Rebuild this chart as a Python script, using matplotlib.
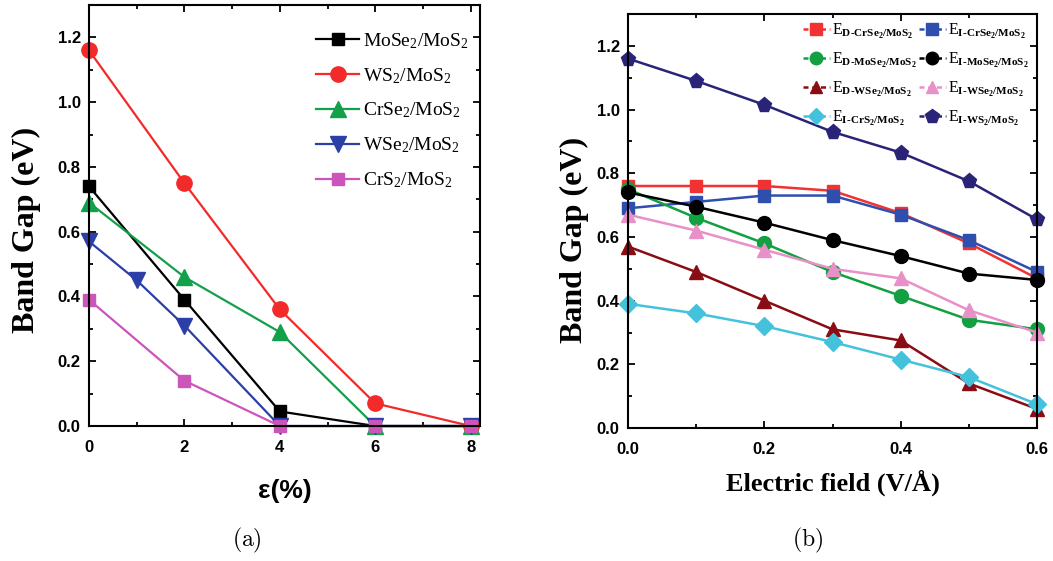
import numpy as np
import matplotlib
matplotlib.use('Agg')
import matplotlib.pyplot as plt
from matplotlib.ticker import MultipleLocator
from matplotlib.lines import Line2D

plt.rcParams['mathtext.fontset'] = 'custom'
plt.rcParams['mathtext.rm'] = 'Liberation Serif'
plt.rcParams['mathtext.bf'] = 'Liberation Serif:bold'
plt.rcParams['mathtext.it'] = 'Liberation Serif:italic'

# ---- panel (a): band gap vs strain ----
strain = [0, 2, 4, 6, 8]
strain_wse2 = [0, 1, 2, 4, 6, 8]
gap_mose2 = [0.74, 0.39, 0.045, 0.0, 0.0]
gap_ws2 = [1.16, 0.75, 0.36, 0.07, 0.0]
gap_crse2 = [0.69, 0.46, 0.29, 0.0, 0.0]
gap_wse2 = [0.57, 0.45, 0.31, 0.0, 0.0, 0.0]
gap_crs2 = [0.39, 0.14, 0.0, 0.0, 0.0]

# ---- panel (b): band gap vs electric field ----
field = [0.0, 0.1, 0.2, 0.3, 0.4, 0.5, 0.6]
ed_crse2 = [0.76, 0.76, 0.76, 0.745, 0.675, 0.58, 0.47]
ei_crse2 = [0.69, 0.71, 0.73, 0.73, 0.67, 0.59, 0.49]
ed_mose2 = [0.75, 0.66, 0.58, 0.49, 0.415, 0.34, 0.31]
ei_mose2 = [0.74, 0.695, 0.645, 0.59, 0.54, 0.485, 0.465]
ed_wse2 = [0.57, 0.49, 0.40, 0.31, 0.275, 0.14, 0.06]
ei_wse2 = [0.67, 0.62, 0.56, 0.50, 0.47, 0.37, 0.30]
ei_crs2 = [0.39, 0.36, 0.32, 0.27, 0.215, 0.16, 0.075]
ei_ws2 = [1.16, 1.09, 1.015, 0.93, 0.865, 0.775, 0.655]

label_font = dict(family='Liberation Serif', weight='bold')


def style_axes(ax):
    for s in ax.spines.values():
        s.set_linewidth(1.5)
    ax.tick_params(which='both', direction='in', top=True, right=True, width=1.3)
    ax.tick_params(which='major', length=5)
    ax.tick_params(which='minor', length=3)
    ax.tick_params(axis='x', which='major', pad=10)
    ax.tick_params(axis='y', which='major', pad=6)
    for lab in ax.get_xticklabels() + ax.get_yticklabels():
        lab.set_fontfamily('Liberation Sans')
        lab.set_fontweight('bold')
        lab.set_fontsize(12)


fig = plt.figure(figsize=(10.53, 5.61), dpi=100)

ax1 = fig.add_axes([0.0845, 0.2406, 0.3715, 0.7505])
kw = dict(lw=1.6, clip_on=False)
ax1.plot(strain, gap_mose2, color='black', marker='s', ms=9, label='MoSe$_2$/MoS$_2$', **kw)
ax1.plot(strain, gap_ws2, color='#f22a2a', marker='o', ms=11, label='WS$_2$/MoS$_2$', **kw)
ax1.plot(strain, gap_crse2, color='#13a04a', marker='^', ms=11, label='CrSe$_2$/MoS$_2$', **kw)
ax1.plot(strain_wse2, gap_wse2, color='#2b3fa6', marker='v', ms=11, label='WSe$_2$/MoS$_2$', **kw)
ax1.plot(strain, gap_crs2, color='#cc55bb', marker='s', ms=9, label='CrS$_2$/MoS$_2$', **kw)
ax1.set_xlim(0, 8.2)
ax1.set_ylim(0, 1.3)
ax1.xaxis.set_major_locator(MultipleLocator(2))
ax1.xaxis.set_minor_locator(MultipleLocator(1))
ax1.set_yticks(np.arange(0, 1.21, 0.2))
ax1.set_yticklabels(['%.1f' % v for v in np.arange(0, 1.21, 0.2)])
ax1.yaxis.set_minor_locator(MultipleLocator(0.1))
style_axes(ax1)
ax1.set_xlabel('ε(%)', family='Liberation Sans', weight='bold', size=19, labelpad=17)
ax1.set_ylabel('Band Gap (eV)', size=23, **label_font)
ax1.yaxis.set_label_coords(-0.123, 0.466)
ax1.legend(loc='upper right', frameon=False, prop=dict(family='Liberation Serif', size=14),
           handlelength=2.2, handletextpad=0.2, labelspacing=0.78,
           bbox_to_anchor=(1.0, 0.966), borderaxespad=0.2)

ax2 = fig.add_axes([0.5964, 0.237, 0.3884, 0.738])
kw = dict(lw=1.8, clip_on=False)
series = [
    (ed_crse2, '#f03232', 's', 9, r'$\mathrm{E}_{\mathbf{D‐CrSe_2/MoS_2}}$'),
    (ei_crse2, '#2f4fae', 's', 9, r'$\mathrm{E}_{\mathbf{I‐CrSe_2/MoS_2}}$'),
    (ed_mose2, '#12a040', 'o', 10, r'$\mathrm{E}_{\mathbf{D‐MoSe_2/MoS_2}}$'),
    (ei_mose2, 'black', 'o', 10, r'$\mathrm{E}_{\mathbf{I‐MoSe_2/MoS_2}}$'),
    (ed_wse2, '#8a0c14', '^', 10, r'$\mathrm{E}_{\mathbf{D‐WSe_2/MoS_2}}$'),
    (ei_wse2, '#e890c8', '^', 10, r'$\mathrm{E}_{\mathbf{I‐WSe_2/MoS_2}}$'),
    (ei_crs2, '#44c2dc', 'D', 9, r'$\mathrm{E}_{\mathbf{I‐CrS_2/MoS_2}}$'),
    (ei_ws2, '#2a2478', 'p', 11, r'$\mathrm{E}_{\mathbf{I‐WS_2/MoS_2}}$'),
]
proxies = []
for vals, c, m, s, lab in series:
    ax2.plot(field, vals, color=c, marker=m, ms=s, **kw)
    proxies.append(Line2D([], [], color=c, marker=m, ms=s - 1, lw=1.8,
                          dashes=(2.0, 1.5), label=lab))
ax2.set_xlim(0, 0.6)
ax2.set_ylim(0, 1.3)
ax2.set_xticks([0.0, 0.2, 0.4, 0.6])
ax2.set_xticklabels(['0.0', '0.2', '0.4', '0.6'])
ax2.xaxis.set_minor_locator(MultipleLocator(0.1))
ax2.set_yticks(np.arange(0, 1.21, 0.2))
ax2.set_yticklabels(['%.1f' % v for v in np.arange(0, 1.21, 0.2)])
ax2.yaxis.set_minor_locator(MultipleLocator(0.1))
style_axes(ax2)
ax2.set_xlabel('Electric field (V/Å)', size=19, labelpad=9, **label_font)
ax2.set_ylabel('Band Gap (eV)', size=23, **label_font)
ax2.yaxis.set_label_coords(-0.095, 0.454)
order = [0, 2, 4, 6, 1, 3, 5, 7]
ax2.legend(handles=[proxies[i] for i in order], ncol=2, loc='upper right',
           frameon=False, prop=dict(size=11.5), handlelength=1.7, handletextpad=0.15,
           labelspacing=0.62, columnspacing=0.1, borderaxespad=0.1,
           bbox_to_anchor=(1.0, 1.0))

fig.text(0.2345, 0.0374, r'$\mathrm{(a)}$', ha='center', va='center', size=17, math_fontfamily='cm')
fig.text(0.7665, 0.0374, r'$\mathrm{(b)}$', ha='center', va='center', size=17, math_fontfamily='cm')

fig.savefig('out.png', dpi=100)
